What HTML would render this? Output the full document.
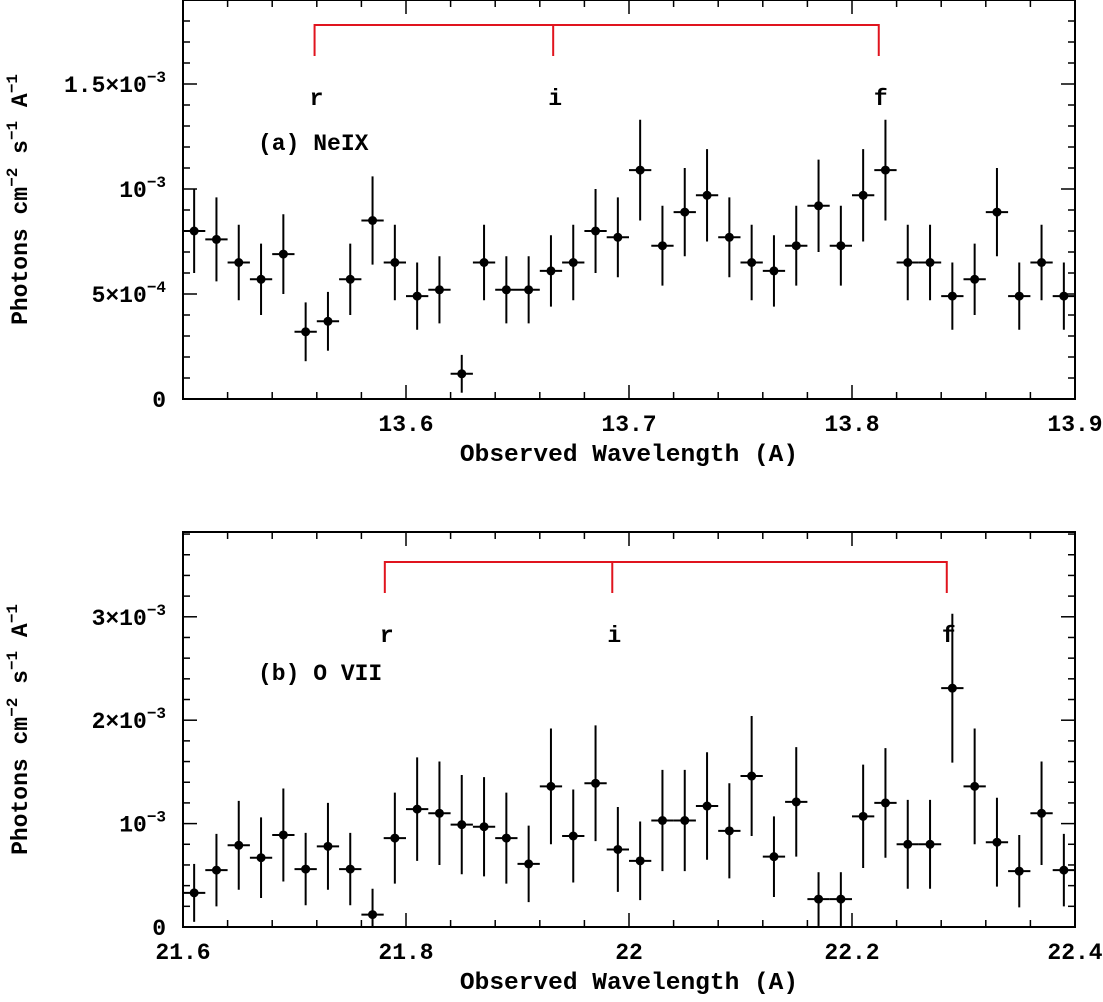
<!DOCTYPE html>
<html><head><meta charset="utf-8"><style>
html,body{margin:0;padding:0;background:#fff;}
svg{display:block;}
text{font-family:"Liberation Mono",monospace;font-weight:bold;fill:#000;}
</style></head><body>
<svg id="chart" width="1103" height="1002" viewBox="0 0 1103 1002" xmlns="http://www.w3.org/2000/svg"></svg>
<script>
// Panel (a) NeIX data
const aCenters = [13.505,13.515,13.525,13.535,13.545,13.555,13.565,13.575,13.585,13.595,13.605,13.615,13.625,13.635,13.645,13.655,13.665,13.675,13.685,13.695,13.705,13.715,13.725,13.735,13.745,13.755,13.765,13.775,13.785,13.795,13.805,13.815,13.825,13.835,13.845,13.855,13.865,13.875,13.885,13.895];
const aValues = [0.80,0.76,0.65,0.57,0.69,0.32,0.37,0.57,0.85,0.65,0.49,0.52,0.12,0.65,0.52,0.52,0.61,0.65,0.80,0.77,1.09,0.73,0.89,0.97,0.77,0.65,0.61,0.73,0.92,0.73,0.97,1.09,0.65,0.65,0.49,0.57,0.89,0.49,0.65,0.49];
const aErrors = [0.20,0.20,0.18,0.17,0.19,0.14,0.14,0.17,0.21,0.18,0.16,0.16,0.09,0.18,0.16,0.16,0.17,0.18,0.20,0.19,0.24,0.19,0.21,0.22,0.19,0.18,0.17,0.19,0.22,0.19,0.22,0.24,0.18,0.18,0.16,0.17,0.21,0.16,0.18,0.16];
const aXTicks = [13.6,13.7,13.8,13.9];
const aXTickLabels = ["13.6","13.7","13.8","13.9"];
const aYTicks = [0,0.5,1.0,1.5];
const aLines = [13.559,13.666,13.812];
const lineNames = ["r","i","f"];
// Panel (b) O VII data
const bCenters = [21.61,21.63,21.65,21.67,21.69,21.71,21.73,21.75,21.77,21.79,21.81,21.83,21.85,21.87,21.89,21.91,21.93,21.95,21.97,21.99,22.01,22.03,22.05,22.07,22.09,22.11,22.13,22.15,22.17,22.19,22.21,22.23,22.25,22.27,22.29,22.31,22.33,22.35,22.37,22.39];
const bValues = [0.33,0.55,0.79,0.67,0.89,0.56,0.78,0.56,0.12,0.86,1.14,1.10,0.99,0.97,0.86,0.61,1.36,0.88,1.39,0.75,0.64,1.03,1.03,1.17,0.93,1.46,0.68,1.21,0.27,0.27,1.07,1.20,0.80,0.80,2.31,1.36,0.82,0.54,1.10,0.55];
const bErrors = [0.28,0.35,0.43,0.39,0.45,0.35,0.42,0.35,0.25,0.44,0.50,0.50,0.48,0.48,0.44,0.37,0.56,0.45,0.56,0.41,0.38,0.49,0.49,0.52,0.46,0.58,0.39,0.53,0.26,0.26,0.50,0.53,0.43,0.43,0.72,0.56,0.43,0.35,0.50,0.35];
const bXTicks = [21.6,21.8,22.0,22.2,22.4];
const bXTickLabels = ["21.6","21.8","22","22.2","22.4"];
const bYTicks = [0,1,2,3];
const bLines = [21.781,21.985,22.285];

const svg = document.getElementById('chart');
const NS = 'http://www.w3.org/2000/svg';
function mk(tag, attrs, parent){const e=document.createElementNS(NS,tag);for(const k in attrs)e.setAttribute(k,attrs[k]);(parent||svg).appendChild(e);return e;}

function panel(p){
  const g = mk('g',{});
  
  
  const L=183,R=1075,T=p.top,B=p.bottom;
  const sx = v => L + (v-p.x0)/(p.x1-p.x0)*(R-L);
  const sy = v => B - (v-p.y0)/(p.y1-p.y0)*(B-T);
  const frame = mk('rect',{x:L,y:T,width:R-L,height:B-T,fill:'none',stroke:'#000','stroke-width':2},g);
  
  
  for(let v=p.x0; v<=p.x1+1e-9; v+=p.xMinor){
    const major = Math.abs(Math.round(v/p.xMajor)*p.xMajor - v) < 1e-6;
    const len = major?14:7, x=sx(v);
    mk('line',{x1:x,y1:B,x2:x,y2:B-len,stroke:'#000','stroke-width':1.5},g);
    mk('line',{x1:x,y1:T,x2:x,y2:T+len,stroke:'#000','stroke-width':1.5},g);
  }
  for(let v=p.y0; v<=p.y1+1e-9; v+=p.yMinor){
    const major = Math.abs(Math.round(v/p.yMajor)*p.yMajor - v) < 1e-6;
    const len = major?14:7, y=sy(v);
    mk('line',{x1:L,y1:y,x2:L+len,y2:y,stroke:'#000','stroke-width':1.5},g);
    mk('line',{x1:R,y1:y,x2:R-len,y2:y,stroke:'#000','stroke-width':1.5},g);
  }
  p.xTicks.forEach((v,i)=>{
    const t = mk('text',{x:sx(v),y:B+32,'font-size':23,'text-anchor':'middle'},g);
    t.textContent = p.xLabels[i];
    
    
  });
  p.yTicks.forEach((v,i)=>{
    const t = mk('text',{x:166,y:sy(v)+8,'font-size':23,'text-anchor':'end'},g);
    if(v===0){t.textContent='0';}
    else{
      const s = p.yLabels[i];
      t.textContent = s[0];
      const e = mk('tspan',{dy:-10,'font-size':16},t); e.textContent = s[1];
    }
    
    
  });
  const xt = mk('text',{x:(L+R)/2,y:B+62,'font-size':24.5,'text-anchor':'middle'},g);
  xt.textContent='Observed Wavelength (A)';
  
  
  const yc=(T+B)/2;
  const yt = mk('text',{x:0,y:0,'font-size':23,'text-anchor':'middle',transform:`translate(27,${yc}) rotate(-90)`},g);
  
  
  const parts=[['Photons cm',0,23],['−2',-10,16],[' s',10,23],['−1',-10,16],[' A',10,23],['−1',-10,16]];
  parts.forEach(q=>{const s=mk('tspan',{dy:q[1],'font-size':q[2]},yt);s.textContent=q[0];});
  const lx = p.lines.map(sx);
  const br = mk('path',{d:`M${lx[0]},${p.brY+31}V${p.brY}H${lx[2]}V${p.brY+31}M${lx[1]},${p.brY}V${p.brY+31}`,fill:'none',stroke:'#e0141e','stroke-width':2},g);
  
  
  lineNames.forEach((n,i)=>{
    const t=mk('text',{x:lx[i]+2,y:p.brY+80,'font-size':23,'text-anchor':'middle'},g);
    t.textContent=n;
    
    
  });
  const lab = mk('text',{x:258,y:p.labY,'font-size':23},g);
  lab.textContent = p.label;
  
  
  p.centers.forEach((c,i)=>{
    const pg = mk('g',{},g);
    
    
    const x=sx(c), y=sy(p.values[i]);
    const xa=Math.max(L,sx(c-p.hw)), xb=Math.min(R,sx(c+p.hw));
    const ya=Math.max(T,sy(p.values[i]+p.errors[i])), yb=Math.min(B,sy(Math.max(p.y0,p.values[i]-p.errors[i])));
    mk('line',{x1:xa,y1:y,x2:xb,y2:y,stroke:'#000','stroke-width':2},pg);
    mk('line',{x1:x,y1:ya,x2:x,y2:yb,stroke:'#000','stroke-width':2},pg);
    mk('circle',{cx:x,cy:y,r:4.5,fill:'#000'},pg);
  });
}
panel({name:'panel-a-neix',top:0,bottom:399,x0:13.5,x1:13.9,y0:0,y1:1.9,xMinor:0.02,xMajor:0.1,yMinor:0.1,yMajor:0.5,
  xTicks:aXTicks,xLabels:aXTickLabels,yTicks:aYTicks,yLabels:[null,['5×10','−4'],['10','−3'],['1.5×10','−3']],
  lines:aLines,brY:25,label:'(a) NeIX',labY:150,centers:aCenters,values:aValues,errors:aErrors,hw:0.005});
panel({name:'panel-b-ovii',top:532,bottom:927,x0:21.6,x1:22.4,y0:0,y1:3.82,xMinor:0.04,xMajor:0.2,yMinor:0.2,yMajor:1,
  xTicks:bXTicks,xLabels:bXTickLabels,yTicks:bYTicks,yLabels:[null,['10','−3'],['2×10','−3'],['3×10','−3']],
  lines:bLines,brY:562,label:'(b) O VII',labY:680,centers:bCenters,values:bValues,errors:bErrors,hw:0.01});
</script>
</body></html>
